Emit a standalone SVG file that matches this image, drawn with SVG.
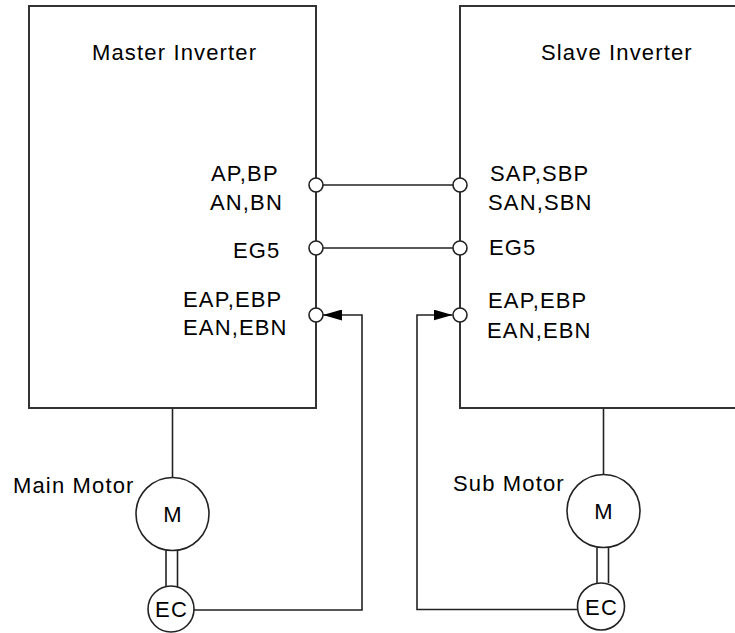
<svg xmlns="http://www.w3.org/2000/svg" width="735" height="633" viewBox="0 0 735 633">
<defs>
<style>
.box{fill:#fff;stroke:#333;stroke-width:2}
.ln{fill:none;stroke:#222;stroke-width:1.6}
.term{fill:#fff;stroke:#222;stroke-width:1.6}
.mot{fill:#fff;stroke:#222;stroke-width:1.6}
text{font-family:"Liberation Sans",Arial,sans-serif;font-size:22px;letter-spacing:1.15px;fill:#000}
</style>
<marker id="ah" viewBox="0 0 19 11" refX="19" refY="5.5" markerWidth="19" markerHeight="11" markerUnits="userSpaceOnUse" orient="auto">
<path d="M0,0 L19,5.5 L0,11 Z" fill="#000"/>
</marker>
</defs>
<rect width="735" height="633" fill="#fff"/>
<g id="connectors">
<line class="ln" x1="316" y1="185" x2="460" y2="185"/>
<line class="ln" x1="316" y1="248" x2="460" y2="248"/>
<line class="ln" x1="172.5" y1="408" x2="172.5" y2="477"/>
<line class="ln" x1="603.5" y1="408" x2="603.5" y2="474"/>
<line class="ln" x1="166" y1="551" x2="166" y2="587"/>
<line class="ln" x1="177.5" y1="551" x2="177.5" y2="587"/>
<line class="ln" x1="597" y1="548" x2="597" y2="583"/>
<line class="ln" x1="608.5" y1="548" x2="608.5" y2="583"/>
<polyline class="ln" points="194,610 362,610 362,315 323,315" marker-end="url(#ah)"/>
<polyline class="ln" points="577,609.5 417,609.5 417,315 452.5,315" marker-end="url(#ah)"/>
</g>
<g id="master">
<rect class="box" x="29" y="6" width="287" height="402"/>
<text x="92" y="60">Master Inverter</text>
<text x="211" y="181">AP,BP</text>
<text x="210" y="210">AN,BN</text>
<text x="233" y="258">EG5</text>
<text x="183" y="307">EAP,EBP</text>
<text x="183" y="335">EAN,EBN</text>
<circle class="term" cx="316" cy="185" r="7"/>
<circle class="term" cx="316" cy="248" r="7"/>
<circle class="term" cx="316" cy="315" r="7"/>
</g>
<g id="slave">
<rect class="box" x="460" y="6" width="290" height="402"/>
<text x="541" y="60">Slave Inverter</text>
<text x="490" y="181">SAP,SBP</text>
<text x="488" y="210">SAN,SBN</text>
<text x="489" y="255">EG5</text>
<text x="488" y="308">EAP,EBP</text>
<text x="487" y="338">EAN,EBN</text>
<circle class="term" cx="460" cy="185" r="7"/>
<circle class="term" cx="460" cy="248" r="7"/>
<circle class="term" cx="460" cy="315" r="7"/>
</g>
<g id="main-motor">
<circle class="mot" cx="172.5" cy="514" r="36.5"/>
<text x="173" y="522" text-anchor="middle">M</text>
<text x="13" y="493">Main Motor</text>
</g>
<g id="main-ec">
<circle class="mot" cx="171" cy="609" r="23"/>
<text x="171.5" y="617" text-anchor="middle">EC</text>
</g>
<g id="sub-motor">
<circle class="mot" cx="603.5" cy="511" r="36.5"/>
<text x="604" y="519" text-anchor="middle">M</text>
<text x="453" y="491">Sub Motor</text>
</g>
<g id="sub-ec">
<circle class="mot" cx="601" cy="606.5" r="23.5"/>
<text x="601.5" y="615" text-anchor="middle">EC</text>
</g>
</svg>
